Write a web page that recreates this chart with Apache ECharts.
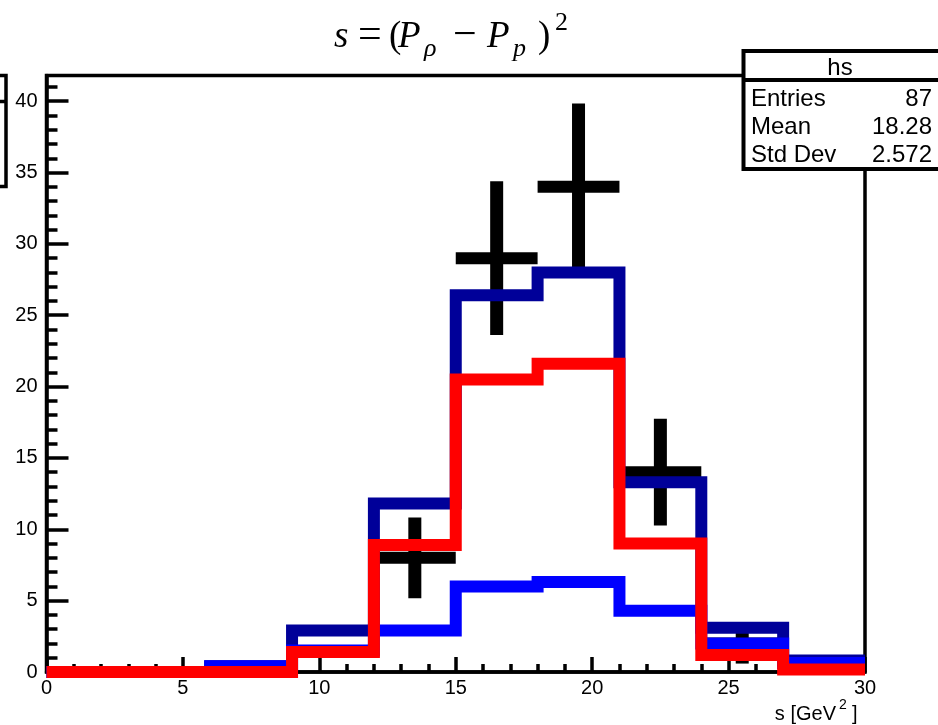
<!DOCTYPE html>
<html>
<head>
<meta charset="utf-8">
<script src="https://cdn.jsdelivr.net/npm/echarts@6/dist/echarts.min.js"></script>
<style>
  html, body { margin: 0; padding: 0; background: #fff; }
  #chart { width: 938px; height: 725px; }
</style>
</head>
<body>
<div id="chart"></div>
<script>
// Histogram binning in s [GeV^2]
const binEdges = [0, 3, 6, 9, 12, 15, 18, 21, 24, 27, 30];

// Stacked-model histograms (bin contents)
const totalModel = [0, 0, 0.4, 2.9, 11.8, 26.4, 28.0, 13.3, 3.1, 0.8];
const componentBlue = [0, 0, 0.4, 1.5, 2.9, 6.0, 6.3, 4.3, 2.0, 0.63];
const componentRed = [0, 0, 0, 1.4, 8.9, 20.5, 21.6, 9.0, 1.2, 0.17];

// Measured points (bin centre, counts, statistical error)
const dataX = [13.5, 16.5, 19.5, 22.5, 25.5];
const dataY = [8, 29, 34, 14, 2];
const dataErr = [2.83, 5.39, 5.83, 3.74, 1.41];

// Axis ticks
const xMajorTicks = [0, 5, 10, 15, 20, 25, 30];
const yMajorTicks = [0, 5, 10, 15, 20, 25, 30, 35, 40];
const yMinorTicks = [];
for (let v = 0; v <= 41; v++) if (v % 5 !== 0) yMinorTicks.push(v);
const yMax = 41.8;

// Statistics box
const statsTitle = 'hs';
const statsRows = [['Entries', '87'], ['Mean', '18.28'], ['Std Dev', '2.572']];

const SANS = '"Liberation Sans", Arial, Helvetica, sans-serif';
const SERIF = '"Liberation Serif", "Times New Roman", serif';

function stepPoints(values) {
  const pts = [];
  values.forEach((v, i) => {
    pts.push([binEdges[i], v]);
    pts.push([binEdges[i + 1], v]);
  });
  return pts;
}

function histSeries(values, color, z) {
  return {
    type: 'line',
    data: stepPoints(values),
    showSymbol: false,
    symbol: 'none',
    clip: false,
    silent: true,
    z: z,
    lineStyle: { color: color, width: 12, join: 'miter', cap: 'butt', miterLimit: 10 }
  };
}

const halfBin = (binEdges[1] - binEdges[0]) / 2;

const chart = echarts.init(document.getElementById('chart'), null, { renderer: 'canvas' });

const tickStyle = { color: '#000', width: 3.5 };
const labelStyle = { color: '#000', fontSize: 20, fontFamily: SANS };

// Title pieces: s = (P_rho - P_p)^2
function glyph(text, x, cy, size, italic) {
  return {
    type: 'text',
    style: {
      text: text, x: x, y: cy,
      font: (italic ? 'italic ' : '') + size + 'px ' + SERIF,
      fill: '#000', align: 'left', verticalAlign: 'middle'
    }
  };
}

const titleGlyphs = [
  glyph('s', 334, 37, 37, true),
  glyph('=', 358, 36, 42, false),
  glyph('(', 389, 37, 37, false),
  glyph('P', 398, 37, 37, true),
  glyph('\u03C1', 424, 49, 26, true),
  glyph('\u2212', 453, 36, 42, false),
  glyph('P', 487, 37, 37, true),
  glyph('p', 513, 49, 26, true),
  glyph(')', 538, 37, 37, false),
  glyph('2', 555, 23, 26, false)
];

const statsLeft = 743.5;
const statsTop = 51;
const statsBottom = 169;
const statsChildren = [
  { type: 'rect', shape: { x: statsLeft, y: statsTop, width: 210, height: statsBottom - statsTop },
    style: { fill: '#fff', stroke: '#000', lineWidth: 4 } },
  { type: 'line', shape: { x1: statsLeft, y1: 80, x2: 950, y2: 80 }, style: { stroke: '#000', lineWidth: 4 } },
  { type: 'text', style: { text: statsTitle, x: 840, y: 68, font: '24px ' + SANS, fill: '#000', align: 'center', verticalAlign: 'middle' } }
];
statsRows.forEach((row, i) => {
  const cy = 99 + i * 28;
  statsChildren.push({ type: 'text', style: { text: row[0], x: 751, y: cy, font: '24px ' + SANS, fill: '#000', align: 'left', verticalAlign: 'middle' } });
  statsChildren.push({ type: 'text', style: { text: row[1], x: 932, y: cy, font: '24px ' + SANS, fill: '#000', align: 'right', verticalAlign: 'middle' } });
});

const option = {
  animation: false,
  backgroundColor: '#fff',
  grid: {
    left: 46.5, right: 73, top: 75.5, bottom: 53,
    show: true, borderColor: '#000', borderWidth: 3.5,
    outerBoundsMode: 'none'
  },
  xAxis: [{
    type: 'value', min: 0, max: 30, interval: 5,
    axisLine: { show: true, onZero: false, lineStyle: tickStyle },
    axisTick: { show: true, inside: true, length: 15, lineStyle: tickStyle },
    minorTick: { show: true, splitNumber: 5, length: 8, lineStyle: tickStyle },
    axisLabel: Object.assign({ margin: 6, customValues: xMajorTicks }, labelStyle),
    splitLine: { show: false }
  }],
  yAxis: [{
    type: 'value', min: 0, max: yMax, interval: 5,
    axisLine: { show: true, onZero: false, lineStyle: tickStyle },
    axisTick: { show: true, inside: true, length: 22, lineStyle: tickStyle, customValues: yMajorTicks },
    axisLabel: Object.assign({ margin: 9, customValues: yMajorTicks }, labelStyle),
    splitLine: { show: false }
  }, {
    type: 'value', min: 0, max: yMax, position: 'left',
    axisLine: { show: false },
    axisTick: { show: true, inside: true, length: 11, lineStyle: tickStyle, customValues: yMinorTicks },
    axisLabel: { show: false },
    splitLine: { show: false }
  }],
  series: [
    {
      type: 'custom',
      z: 1,
      silent: true,
      data: dataX.map((x, i) => [x, dataY[i], dataErr[i]]),
      renderItem: function (params, api) {
        const x = api.value(0), y = api.value(1), e = api.value(2);
        const l = api.coord([x - halfBin, y]);
        const r = api.coord([x + halfBin, y]);
        const t = api.coord([x, y + e]);
        const b = api.coord([x, y - e]);
        return {
          type: 'group',
          children: [
            { type: 'line', shape: { x1: l[0], y1: l[1], x2: r[0], y2: r[1] }, style: { stroke: '#000', lineWidth: 12, lineCap: 'butt' } },
            { type: 'line', shape: { x1: t[0], y1: t[1], x2: b[0], y2: b[1] }, style: { stroke: '#000', lineWidth: 13, lineCap: 'butt' } }
          ]
        };
      }
    },
    histSeries(totalModel, '#000099', 2),
    histSeries(componentBlue, '#0000ff', 3),
    histSeries(componentRed, '#ff0000', 4)
  ],
  graphic: [
    { type: 'group', z: 100, children: titleGlyphs },
    { type: 'group', z: 100, children: statsChildren },
    { type: 'group', z: 100, children: [
      { type: 'polyline', shape: { points: [[-5, 75.5], [6, 75.5], [6, 186.5], [-5, 186.5]] }, style: { stroke: '#000', lineWidth: 3.5, fill: null } },
      { type: 'line', shape: { x1: -5, y1: 101.5, x2: 6, y2: 101.5 }, style: { stroke: '#000', lineWidth: 3.5 } }
    ] },
    { type: 'group', z: 100, children: [
      { type: 'text', style: { text: 's [GeV', x: 836, y: 714, font: '20px ' + SANS, fill: '#000', align: 'right', verticalAlign: 'middle' } },
      { type: 'text', style: { text: '2', x: 839, y: 705, font: '14px ' + SANS, fill: '#000', align: 'left', verticalAlign: 'middle' } },
      { type: 'text', style: { text: ']', x: 852, y: 714, font: '20px ' + SANS, fill: '#000', align: 'left', verticalAlign: 'middle' } }
    ] }
  ]
};

chart.setOption(option);
</script>
</body>
</html>
